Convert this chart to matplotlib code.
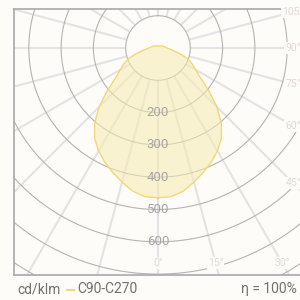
import numpy as np
import matplotlib
matplotlib.use("Agg")
import matplotlib.pyplot as plt

# C90-C270 curve, intensity (cd/klm) by angle from nadir (degrees)
angles = [0, 5, 10, 15, 20, 25, 30, 35, 40, 45, 50, 55, 60, 65, 70, 75, 80, 85,
          90, 95, 100, 110, 120, 135, 150, 165, 180]
intensity = [464, 462, 450, 430, 410, 390, 368, 342, 305, 258, 205, 160, 135, 117,
             98, 72, 50, 36, 28, 24, 21, 16, 12, 9, 7, 6, 6]

ring_values = [100, 200, 300, 400, 500, 600, 700, 800, 900]
ring_labels = [200, 300, 400, 500, 600]
spoke_angles = list(range(0, 360, 15))
angle_labels = [0, 15, 30, 45, 60, 75, 90, 105]

bg = "#fdfcf8"
px = 0.323  # pixels per cd/klm

plt.rcParams['font.family'] = ['Roboto', 'DejaVu Sans']

fig = plt.figure(figsize=(3, 3), dpi=100, facecolor=bg)
ax = fig.add_axes([14 / 300, 25 / 300, 290 / 300, 266 / 300])
ax.set_facecolor(bg)
ax.set_xlim(-144 / px, 146 / px)
ax.set_ylim(-227 / px, 39 / px)
ax.set_xticks([])
ax.set_yticks([])
for side in ["left", "top", "bottom"]:
    ax.spines[side].set_color("#a9a9a9")
    ax.spines[side].set_linewidth(1.2)
ax.spines["right"].set_visible(False)

# spokes
for a in spoke_angles:
    t = np.radians(a)
    ax.plot([100 * np.sin(t), 1000 * np.sin(t)], [-100 * np.cos(t), -1000 * np.cos(t)],
            color="#e3e3e3", lw=1.5, zorder=1, solid_capstyle="butt")

# rings
tt = np.linspace(0, 2 * np.pi, 400)
for r in ring_values:
    ax.plot(r * np.sin(tt), r * np.cos(tt), color="#b4b4b4", lw=0.8, zorder=2)

# curve, mirrored for C270 side
th = np.radians(angles)
I = np.array(intensity)
x = np.concatenate([I * np.sin(th), -(I * np.sin(th))[::-1]])
y = np.concatenate([-I * np.cos(th), (-I * np.cos(th))[::-1]])
ax.fill(x, y, facecolor="#f7eab0", alpha=0.55, edgecolor="none", zorder=3)
ax.plot(np.append(x, x[0]), np.append(y, y[0]), color="#f0d97a", lw=1.0, zorder=4)

# ring labels
for v in ring_labels:
    ax.text(0, -v, str(v), ha="center", va="center", fontsize=9.5,
            color="#a6a6a6", zorder=5)

# angle labels along the frame
xm, ym = 135 / px, 215 / px
for a in angle_labels:
    t = np.radians(a)
    s, c = np.sin(t), np.cos(t)
    k = min(xm / s if s > 1e-9 else 1e9, ym / c if c > 1e-9 else 1e9)
    ax.text(k * s, -k * c, f"{a}°", ha="center", va="center", fontsize=7.5,
            color="#e5d6da", zorder=5,
            bbox=dict(boxstyle="square,pad=0.1", facecolor=bg, edgecolor="none"))

fig.text(17 / 300, 11 / 300, "cd/klm", fontsize=10, color="#707070", va="center")
fig.add_artist(plt.Line2D([67 / 300, 74 / 300], [10 / 300, 10 / 300],
                          color="#f0d97a", lw=1.5))
fig.text(77 / 300, 11 / 300, "C90-C270", fontsize=10, color="#707070", va="center")
fig.text(297 / 300, 11 / 300, "η = 100%", fontsize=10, color="#707070",
         va="center", ha="right")

fig.savefig("out.png", dpi=100, facecolor=bg)
